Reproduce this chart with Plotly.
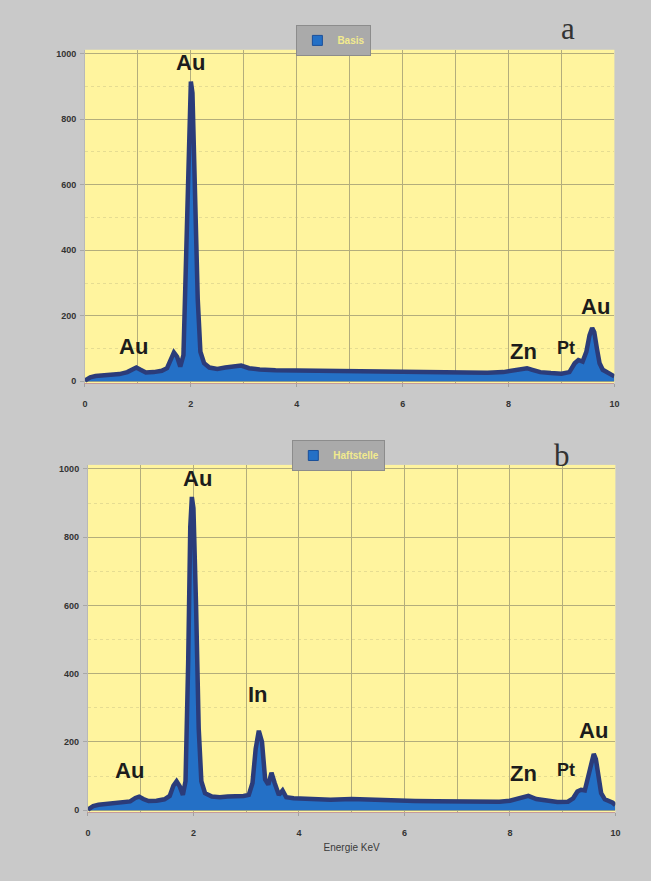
import plotly.graph_objects as go

# ---------------- data ----------------
energy_basis = [0.00, 0.10, 0.20, 0.35, 0.50, 0.65, 0.80, 0.90, 0.97, 1.05, 1.15, 1.30, 1.45,
                1.55, 1.62, 1.68, 1.74, 1.80, 1.86, 1.92, 1.97, 2.00, 2.03, 2.08, 2.13, 2.18,
                2.25, 2.35, 2.50, 2.65, 2.80, 2.95, 3.10, 3.30, 3.60, 4.00, 4.40, 4.80, 5.20,
                5.60, 6.00, 6.40, 6.80, 7.20, 7.60, 7.90, 8.10, 8.25, 8.35, 8.45, 8.60, 8.80,
                9.00, 9.15, 9.25, 9.32, 9.40, 9.47, 9.53, 9.58, 9.62, 9.67, 9.72, 9.78, 9.85,
                9.92, 10.00]
counts_basis = [2, 12, 16, 18, 20, 22, 28, 38, 42, 35, 27, 28, 32,
                40, 70, 88, 75, 45, 80, 420, 820, 915, 880, 600, 250, 90,
                55, 42, 38, 42, 45, 48, 40, 36, 34, 33, 31, 32, 30,
                28, 27, 26, 26, 25, 26, 28, 32, 37, 40, 35, 28, 25,
                23, 28, 55, 65, 60, 90, 140, 163, 150, 100, 55, 35, 28,
                25, 15]

energy_haft = [0.00, 0.10, 0.20, 0.35, 0.50, 0.65, 0.80, 0.90, 0.97, 1.05, 1.15, 1.30, 1.45,
               1.55, 1.62, 1.68, 1.74, 1.80, 1.85, 1.90, 1.94, 1.97, 2.00, 2.05, 2.10, 2.15,
               2.22, 2.35, 2.50, 2.65, 2.80, 2.95, 3.05, 3.12, 3.18, 3.24, 3.30, 3.36, 3.42,
               3.48, 3.54, 3.62, 3.69, 3.76, 3.90, 4.20, 4.60, 5.00, 5.40, 5.80, 6.20, 6.60,
               7.00, 7.40, 7.80, 8.00, 8.20, 8.35, 8.50, 8.70, 8.90, 9.10, 9.20, 9.28, 9.35,
               9.42, 9.48, 9.54, 9.59, 9.63, 9.68, 9.73, 9.80, 9.88, 9.95, 10.00]
counts_haft = [2, 12, 16, 18, 20, 22, 26, 36, 40, 33, 27, 28, 32,
               42, 72, 85, 70, 45, 85, 430, 830, 918, 885, 600, 240, 85,
               50, 40, 38, 40, 40, 42, 45, 80, 180, 233, 200, 90, 75,
               110, 80, 45, 58, 38, 35, 33, 31, 33, 30, 28, 27, 26,
               25, 24, 25, 28, 35, 42, 33, 27, 24, 25, 35, 55, 60,
               58, 95, 145, 165, 150, 95, 50, 32, 27, 22, 15]

y_ticks = [0, 200, 400, 600, 800, 1000]
x_ticks = [0, 2, 4, 6, 8, 10]

labels_a = [("Au", 190, 62, 22), ("Au", 132, 347, 22), ("Zn", 527, 352, 22),
            ("Pt", 570, 349, 18), ("Au", 600, 307, 22)]
labels_b = [("Au", 197, 480, 22), ("Au", 128, 773, 22), ("In", 258, 697, 22),
            ("Zn", 527, 776, 22), ("Pt", 570, 773, 18), ("Au", 598, 733, 22)]

# ---------------- style ----------------
W, H = 651, 881
GRAY = "#c9c9c9"
YELLOW = "#fff49e"
FILL = "#2470c6"
EDGE = "#2b3c7a"
GRID = "#b3ad7c"


def px_x(p):
    return p / W


def px_y(p):
    return 1 - p / H


fig = go.Figure()

fig.add_trace(go.Scatter(x=energy_basis, y=counts_basis, mode="lines", fill="tozeroy",
                         fillcolor=FILL, line=dict(color=EDGE, width=4.5),
                         xaxis="x", yaxis="y", showlegend=False, hoverinfo="skip"))
fig.add_trace(go.Scatter(x=[None], y=[None], mode="markers", name="<b>Basis</b>",
                         marker=dict(symbol="square", size=10, color=FILL,
                                     line=dict(color="#1a4f9a", width=1)),
                         xaxis="x", yaxis="y", legend="legend"))

fig.add_trace(go.Scatter(x=energy_haft, y=counts_haft, mode="lines", fill="tozeroy",
                         fillcolor=FILL, line=dict(color=EDGE, width=4.5),
                         xaxis="x2", yaxis="y2", showlegend=False, hoverinfo="skip"))
fig.add_trace(go.Scatter(x=[None], y=[None], mode="markers", name="<b>Haftstelle</b>",
                         marker=dict(symbol="square", size=10, color=FILL,
                                     line=dict(color="#1a4f9a", width=1)),
                         xaxis="x2", yaxis="y2", legend="legend2"))

tickfont = dict(family="Liberation Sans, Arial", size=9, color="#333333")


def xaxis(dom, anchor, title=None):
    d = dict(domain=dom, anchor=anchor, range=[0, 10], tickvals=x_ticks,
             ticktext=[f"<b>{v}</b>" for v in x_ticks],
             showgrid=True, gridcolor=GRID, gridwidth=1,
             minor=dict(dtick=1, showgrid=True, gridcolor=GRID, gridwidth=1, ticks=""),
             ticks="outside", ticklen=3, tickcolor="#a0a0a0",
             tickfont=tickfont, ticklabelstandoff=9,
             showline=True, linecolor="#c49a9a", linewidth=1,
             zeroline=False, fixedrange=True)
    if title:
        d["title"] = dict(text=title, font=dict(family="Liberation Sans, Arial", size=10,
                                                color="#3a3a3a"), standoff=6)
    return d


def yaxis(dom, anchor):
    return dict(domain=dom, anchor=anchor, range=[-6, 1012], tickvals=y_ticks,
                ticktext=[f"<b>{v}</b>" for v in y_ticks],
                showgrid=True, gridcolor=GRID, gridwidth=1,
                minor=dict(dtick=100, showgrid=True, gridcolor="rgba(170,165,120,0.3)",
                           griddash="dot", ticks=""),
                ticks="outside", ticklen=4, tickcolor="#a8a8a8",
                tickfont=tickfont, ticklabelstandoff=2,
                showline=True, linecolor="#b8b8b8", linewidth=1,
                zeroline=False, fixedrange=True)


fig.update_layout(
    width=W, height=H,
    margin=dict(l=0, r=0, t=0, b=0),
    paper_bgcolor=GRAY,
    plot_bgcolor=YELLOW,
    xaxis=xaxis([px_x(83), px_x(619)], "y"),
    yaxis=yaxis([px_y(384), px_y(49)], "x"),
    xaxis2=xaxis([px_x(86), px_x(620)], "y2", "Energie KeV"),
    yaxis2=yaxis([px_y(815), px_y(466)], "x2"),
    legend=dict(x=px_x(335), y=px_y(24), xanchor="center", yanchor="top",
                bgcolor="#aaaaaa", bordercolor="#8c8c8c", borderwidth=1,
                font=dict(family="Liberation Sans, Arial", size=10, color="#f2ea8e"),
                itemwidth=30, tracegroupgap=0),
    legend2=dict(x=px_x(340), y=px_y(441), xanchor="center", yanchor="top",
                 bgcolor="#aaaaaa", bordercolor="#8c8c8c", borderwidth=1,
                 font=dict(family="Liberation Sans, Arial", size=10, color="#f2ea8e"),
                 itemwidth=30, tracegroupgap=0),
    showlegend=True,
)

ann = []
for text, x, y, s in labels_a + labels_b:
    ann.append(dict(text=f"<b>{text}</b>", x=px_x(x), y=px_y(y), xref="paper", yref="paper",
                    showarrow=False, xanchor="center", yanchor="middle",
                    font=dict(family="Liberation Sans, Arial", size=s, color="#1c1c1c")))
for text, x, y in [("a", 572, 28), ("b", 566, 457)]:
    ann.append(dict(text=text, x=px_x(x), y=px_y(y), xref="paper", yref="paper",
                    showarrow=False, xanchor="center", yanchor="middle",
                    font=dict(family="Liberation Serif, Times New Roman", size=31,
                              color="#333333")))
fig.update_layout(annotations=ann)

fig.write_html("out.html")
